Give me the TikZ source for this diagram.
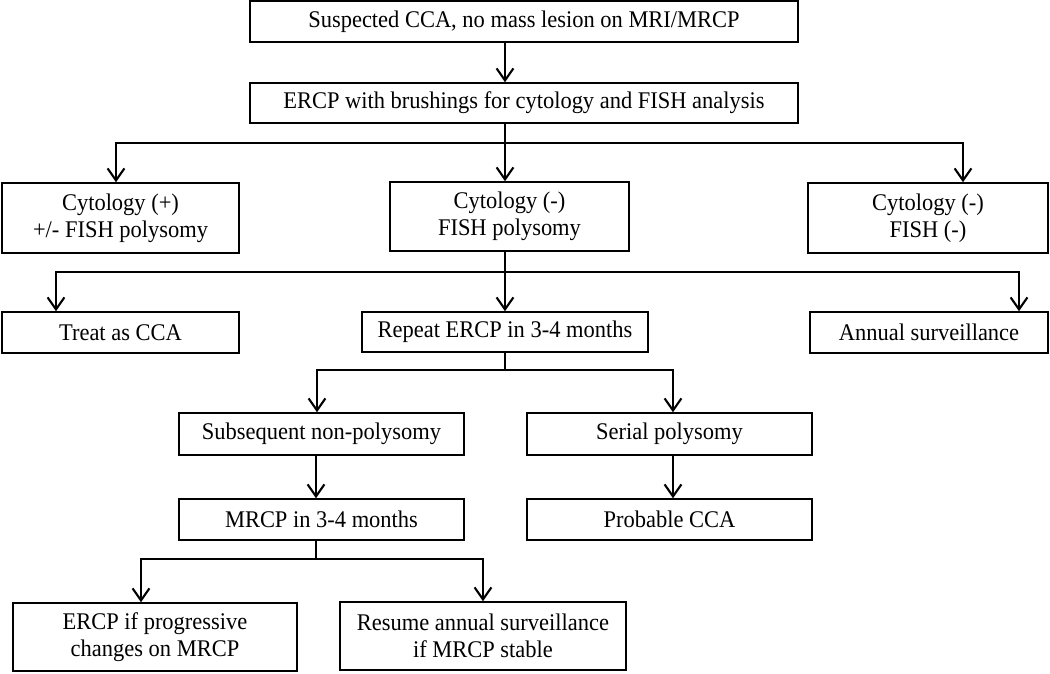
\documentclass[tikz,border=0pt]{standalone}
\usepackage{fontspec}
\setmainfont{Liberation Serif}[FakeStretch=0.94]
\usetikzlibrary{arrows.meta}
\tikzset{box/.style={draw, line width=1.1pt, align=center, inner sep=0pt, font=\fontsize{17}{19.5}\selectfont},
         link/.style={line width=1.5pt, line join=miter},
         arr/.style={link, -{Straight Barb[length=0.3cm, width=0.42cm, line width=1.5pt]}}}

\begin{document}
\begin{tikzpicture}[x=0.025cm, y=-0.025cm]
        \useasboundingbox (0,0) rectangle (1050,673);

        \node[box, minimum width=13.7cm, minimum height=1.025cm](susp)at(524,21.5){Suspected CCA, no mass lesion on MRI/MRCP};
        \node[box, minimum width=13.7cm, minimum height=1cm](ercp)at(524,103){ERCP with brushings for cytology and FISH analysis};

        \node[box, minimum width=5.925cm, minimum height=1.75cm](cytpos)at(120.5,218){Cytology (+)\\+/- FISH polysomy};
        \node[box, minimum width=5.975cm, minimum height=1.725cm](cytpoly)at(509.5,216.5){Cytology (-)\\FISH polysomy};
        \node[box, minimum width=6cm, minimum height=1.75cm](cytneg)at(928,218){Cytology (-)\\FISH (-)};

        \node[box, minimum width=5.925cm, minimum height=1.025cm](treat)at(120.5,332.5){Treat as CCA};
        \node[box, minimum width=7.15cm, minimum height=1cm](repeat)at(505,332){Repeat ERCP in 3-4 months};
        \node[box, minimum width=5.95cm, minimum height=1.025cm](annual)at(929,332.5){Annual surveillance};

        \node[box, minimum width=7.125cm, minimum height=1.05cm](nonpoly)at(321.5,434){Subsequent non-polysomy};
        \node[box, minimum width=7.125cm, minimum height=1.05cm](serial)at(669.5,434){Serial polysomy};

        \node[box, minimum width=7.125cm, minimum height=1.025cm](mrcp)at(321.5,519.5){MRCP in 3-4 months};
        \node[box, minimum width=7.125cm, minimum height=1.025cm](probable)at(669.5,519.5){Probable CCA};

        \node[box, minimum width=7.1cm, minimum height=1.7cm](ercpif)at(155,637){ERCP if progressive\\changes on MRCP};
        \node[box, minimum width=7.15cm, minimum height=1.7cm](resume)at(483,636){Resume annual surveillance\\if MRCP stable};

        \coordinate(s1)at(505,143);
        \coordinate(s1l)at(116,143);
        \coordinate(s1r)at(963,143);
        \coordinate(s2)at(505,272);
        \coordinate(s2l)at(56,272);
        \coordinate(s2r)at(1019,272);
        \coordinate(s3)at(505,370);
        \coordinate(s3l)at(317,370);
        \coordinate(s3r)at(673,370);
        \coordinate(s4)at(316,559);
        \coordinate(s4l)at(141,559);
        \coordinate(s4r)at(483,559);

        \draw[arr](susp.south -| s1)--(ercp.north -| s1);

        \draw[link](ercp.south -| s1)--(s1);
        \draw[arr](s1)--(s1l)--(s1l |- cytpos.north);
        \draw[arr](s1)--(s1r)--(s1r |- cytneg.north);
        \draw[arr](s1)--(s1 |- cytpoly.north);

        \draw[link](cytpoly.south -| s2)--(s2);
        \draw[arr](s2)--(s2l)--(s2l |- treat.north);
        \draw[arr](s2)--(s2r)--(s2r |- annual.north);
        \draw[arr](s2)--(s2 |- repeat.north);

        \draw[link](repeat.south -| s3)--(s3);
        \draw[arr](s3)--(s3l)--(s3l |- nonpoly.north);
        \draw[arr](s3)--(s3r)--(s3r |- serial.north);

        \draw[arr](nonpoly.south -| s4)--(mrcp.north -| s4);
        \draw[arr](serial.south -| s3r)--(probable.north -| s3r);

        \draw[link](mrcp.south -| s4)--(s4);
        \draw[arr](s4)--(s4l)--(s4l |- ercpif.north);
        \draw[arr](s4)--(s4r)--(s4r |- resume.north);
    \end{tikzpicture}
\end{document}
